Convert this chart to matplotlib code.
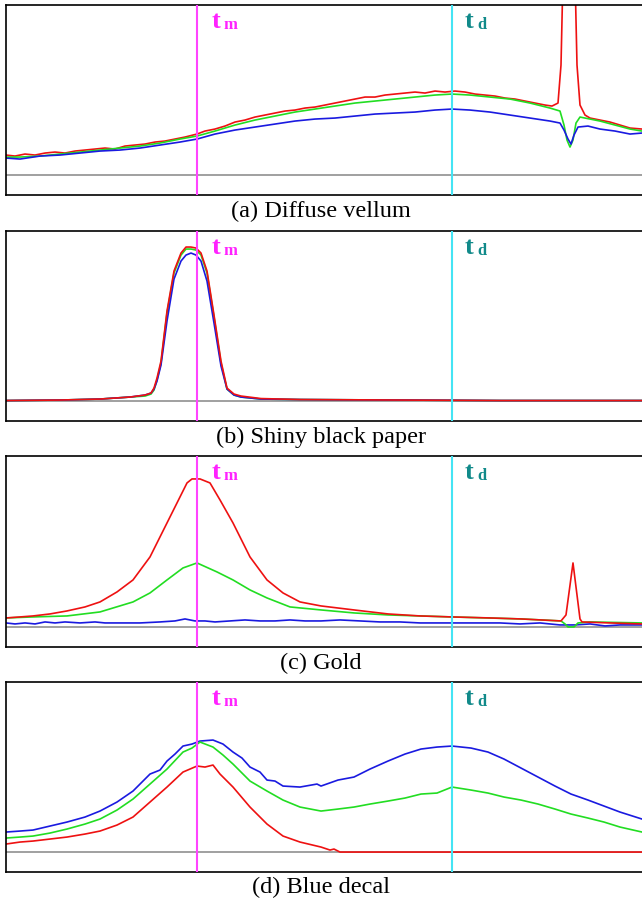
import numpy as np
import matplotlib
matplotlib.use("Agg")
import matplotlib.pyplot as plt
import matplotlib.transforms as mtransforms

# x positions are in image-pixel-like time units, y is height above baseline
t_m = 197
t_d = 452

captions = ["(a) Diffuse vellum", "(b) Shiny black paper", "(c) Gold", "(d) Blue decal"]

# (a) Diffuse vellum
a_red_x = [6, 15, 25, 35, 45, 55, 65, 75, 85, 95, 105, 115, 125, 135, 145, 155, 165, 175, 185, 197,
           205, 215, 225, 235, 245, 255, 265, 275, 285, 295, 305, 315, 325, 335, 345, 355, 365, 375,
           385, 395, 405, 415, 425, 435, 445, 455, 465, 475, 485, 495, 505, 515, 525, 535, 545, 552,
           558, 561, 563, 575, 577, 580, 585, 590, 600, 610, 620, 630, 642]
a_red_y = [20, 19, 21, 20, 22, 23, 22, 24, 25, 26, 27, 26, 29, 30, 31, 33, 34, 36, 38, 41,
           44, 46, 49, 53, 55, 58, 60, 62, 64, 65, 67, 68, 70, 72, 74, 76, 78, 78,
           80, 81, 82, 83, 82, 84, 83, 84, 83, 81, 80, 79, 77, 76, 74, 72, 70, 69,
           72, 110, 200, 200, 110, 70, 60, 57, 55, 53, 50, 47, 46]
a_green_x = [6, 20, 40, 60, 80, 100, 120, 140, 160, 180, 197, 215, 235, 255, 275, 295, 315, 335, 355,
             375, 395, 415, 435, 452, 470, 490, 510, 530, 550, 560, 564, 567, 570, 573, 576, 580,
             590, 600, 615, 630, 642]
a_green_y = [18, 18, 19, 21, 23, 25, 27, 29, 32, 36, 39, 44, 50, 55, 59, 63, 66, 69, 72,
             74, 76, 78, 80, 81, 80, 78, 76, 72, 67, 64, 50, 35, 28, 35, 52, 58,
             56, 54, 50, 46, 44]
a_blue_x = [6, 20, 40, 60, 80, 100, 120, 140, 160, 180, 197, 215, 235, 255, 275, 295, 315, 335, 355,
            375, 395, 415, 435, 452, 470, 490, 510, 530, 550, 560, 564, 568, 571, 574, 578, 588,
            600, 615, 630, 642]
a_blue_y = [17, 16, 19, 20, 22, 24, 25, 27, 30, 33, 36, 41, 45, 48, 51, 54, 56, 57, 59,
            61, 62, 63, 65, 66, 65, 63, 60, 57, 54, 52, 45, 36, 31, 40, 48, 49,
            46, 44, 41, 42]

# (b) Shiny black paper
b_red_x = [6, 60, 100, 130, 145, 151, 154, 157, 161, 167, 174, 181, 186, 191, 196, 201, 207, 214,
           221, 227, 234, 241, 261, 300, 400, 500, 642]
b_red_y = [0.5, 1, 2, 4, 6, 8, 13, 23, 40, 90, 130, 148, 154, 154, 153, 148, 130, 86,
           40, 13, 7, 5, 2.5, 1.5, 1, 0.5, 0.5]
b_green_x = [6, 60, 100, 130, 145, 151, 154, 157, 161, 167, 174, 181, 186, 191, 196, 201, 207, 214,
             221, 227, 234, 241, 261, 300, 400, 500, 642]
b_green_y = [0.5, 1, 2, 4, 5, 7, 11, 21, 38, 88, 128, 146, 152, 152, 151, 146, 128, 84,
             38, 12, 6, 4, 2, 1.5, 1, 0.5, 0.5]
b_blue_x = [6, 60, 100, 130, 145, 151, 154, 157, 161, 167, 174, 181, 186, 191, 196, 201, 207, 214,
            221, 227, 234, 241, 261, 300, 400, 500, 642]
b_blue_y = [0.5, 1, 2, 4, 6, 8, 12, 20, 36, 80, 122, 140, 146, 148, 146, 140, 120, 78,
            35, 12, 6, 4, 2, 1.5, 1, 0.5, 0.5]

# (c) Gold
c_red_x = [6, 20, 33, 50, 67, 85, 100, 117, 133, 150, 167, 177, 187, 192, 200, 210, 220, 233, 250,
           267, 283, 300, 321, 354, 388, 420, 452, 490, 521, 561, 566, 573, 580, 582, 610, 642]
c_red_y = [9, 10, 11, 13, 16, 20, 25, 35, 47, 70, 104, 124, 144, 148, 148, 144, 127, 104, 70,
           47, 34, 25, 21, 17, 13, 11, 10, 9, 8, 6, 12, 64, 8, 5, 4, 3]
c_green_x = [6, 33, 67, 100, 133, 150, 167, 183, 197, 217, 233, 250, 267, 290, 321, 354, 388, 452,
             521, 561, 565, 568, 574, 578, 590, 642]
c_green_y = [9, 10, 11, 15, 25, 34, 47, 59, 64, 55, 47, 37, 29, 20, 17, 14, 12, 10,
             8, 6, 3, 0, 0, 4, 5, 4]
c_blue_x = [6, 15, 25, 35, 45, 55, 65, 80, 95, 105, 120, 140, 160, 175, 185, 195, 205, 215, 230,
            245, 260, 275, 290, 305, 321, 340, 360, 380, 400, 420, 440, 460, 480, 500, 520, 540,
            560, 575, 590, 605, 620, 642]
c_blue_y = [4, 3, 4, 3, 5, 4, 5, 4, 5, 4, 4, 4, 5, 6, 8, 6, 6, 5, 6,
            7, 6, 6, 7, 6, 6, 7, 6, 5, 5, 4, 4, 4, 4, 4, 3, 4,
            2, 2, 3, 1, 2, 2]

# (d) Blue decal
d_blue_x = [6, 20, 33, 50, 67, 85, 100, 117, 133, 150, 160, 167, 175, 183, 192, 200, 213, 223, 233,
            242, 250, 260, 267, 275, 283, 300, 317, 321, 338, 354, 370, 388, 405, 421, 437, 452,
            471, 488, 504, 521, 538, 555, 571, 588, 604, 620, 642]
d_blue_y = [20, 21, 22, 26, 30, 35, 41, 50, 61, 78, 82, 91, 98, 106, 108, 111, 112, 108, 100,
            94, 85, 80, 72, 71, 66, 65, 68, 66, 72, 75, 83, 91, 98, 103, 105, 106,
            104, 100, 93, 84, 75, 66, 58, 52, 46, 40, 33]
d_green_x = [6, 20, 33, 50, 67, 85, 100, 117, 133, 150, 167, 183, 192, 200, 213, 223, 233, 250,
             267, 283, 300, 321, 338, 354, 370, 388, 405, 421, 437, 452, 471, 488, 504, 521, 538,
             555, 571, 588, 604, 620, 642]
d_green_y = [14, 15, 16, 19, 23, 28, 33, 42, 53, 68, 83, 100, 104, 110, 105, 97, 88, 71,
             61, 52, 45, 41, 43, 45, 48, 51, 54, 58, 59, 65, 62, 59, 55, 52, 48,
             43, 38, 34, 30, 25, 20]
d_red_x = [6, 20, 33, 50, 67, 85, 100, 117, 133, 150, 167, 183, 197, 205, 213, 220, 233, 250,
           267, 283, 300, 321, 330, 334, 340, 400, 500, 642]
d_red_y = [8, 10, 11, 13, 15, 18, 21, 27, 35, 50, 65, 80, 86, 85, 87, 78, 65, 45,
           28, 16, 10, 5, 2, 3, 0, 0, 0, 0]

panels = [
    [(a_red_x, a_red_y), (a_green_x, a_green_y), (a_blue_x, a_blue_y)],
    [(b_green_x, b_green_y), (b_blue_x, b_blue_y), (b_red_x, b_red_y)],
    [(c_blue_x, c_blue_y), (c_green_x, c_green_y), (c_red_x, c_red_y)],
    [(d_blue_x, d_blue_y), (d_green_x, d_green_y), (d_red_x, d_red_y)],
]
order_colors = [
    ["#ee1111", "#22dd22", "#1a1ae0"],
    ["#22dd22", "#1a1ae0", "#ee1111"],
    ["#1a1ae0", "#22dd22", "#ee1111"],
    ["#1a1ae0", "#22dd22", "#ee1111"],
]

fig = plt.figure(figsize=(6.42, 9.07), dpi=100)
W, H = 642, 907
tops = [5, 231, 456, 682]
bots = [195, 421, 647, 872]
cap_y = [211, 437, 663, 887]

for i in range(4):
    ax = fig.add_axes([6 / W, 1 - bots[i] / H, (647 - 6) / W, (bots[i] - tops[i]) / H])
    ax.set_xlim(6, 647)
    ax.set_ylim(-(bots[i] - tops[i]) * 0.105, (bots[i] - tops[i]) * 0.895)
    ax.axhline(0, color="#999999", lw=1.3, zorder=1)
    for (xs, ys), c in zip(panels[i], order_colors[i]):
        ax.plot(xs, ys, color=c, lw=1.2, zorder=2)
    ax.axvline(t_m, color="#ff44ff", lw=1.5, zorder=3)
    ax.axvline(t_d, color="#44e4f4", lw=1.5, zorder=3)
    tr = mtransforms.blended_transform_factory(ax.transData, ax.transAxes)
    ax.text(t_m + 15, 0.88, "t", transform=tr, color="#ff22ff", fontsize=19,
            fontweight="bold", family="Liberation Serif", va="baseline")
    ax.text(t_m + 27, 0.875, "m", transform=tr, color="#ff22ff", fontsize=12,
            fontweight="bold", family="Liberation Serif", va="baseline")
    ax.text(t_d + 13, 0.88, "t", transform=tr, color="#118a8a", fontsize=19,
            fontweight="bold", family="Liberation Serif", va="baseline")
    ax.text(t_d + 25, 0.875, "d", transform=tr, color="#118a8a", fontsize=12,
            fontweight="bold", family="Liberation Serif", va="baseline")
    ax.set_xticks([])
    ax.set_yticks([])
    for s in ax.spines.values():
        s.set_linewidth(1.2)
    fig.text(0.5, 1 - cap_y[i] / H, captions[i], ha="center", va="center",
             fontsize=17.5, family="Liberation Serif")

fig.savefig("out.png", dpi=100)
